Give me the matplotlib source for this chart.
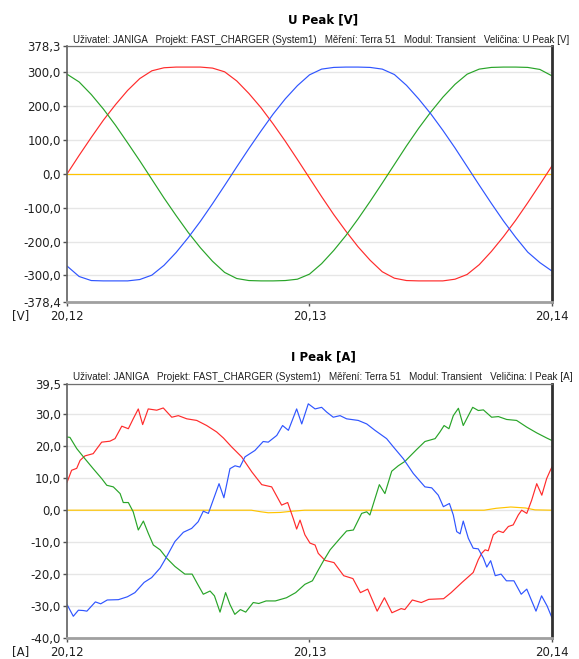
import numpy as np
import matplotlib.pyplot as plt
from matplotlib.ticker import FixedLocator, FixedFormatter

# --- voltage, sampled every 0.5 ms from 20.120 s ---
t_u = np.linspace(20.12, 20.14, 41)
u_red = [0, 55, 108, 159, 205, 247, 282, 305, 314, 316, 316, 316, 313, 302, 275,
         238, 196, 148, 97, 43, -12, -67, -120, -169, -215, -255, -289, -308, -315,
         -316, -316, -316, -311, -297, -268, -229, -185, -137, -85, -31, 24]
u_blue = [-272, -303, -315, -316, -316, -316, -312, -299, -270, -232, -188, -140, -88,
          -34, 21, 75, 127, 177, 222, 261, 293, 310, 315, 316, 316, 315, 310, 294,
          262, 222, 178, 129, 77, 22, -33, -87, -139, -187, -231, -262, -287]
u_green = [295, 272, 235, 192, 144, 92, 39, -16, -71, -123, -173, -218, -258, -291,
           -309, -315, -316, -316, -315, -311, -296, -265, -226, -182, -133, -81, -27,
           28, 83, 135, 183, 227, 265, 295, 310, 315, 316, 316, 315, 309, 290]
u_yellow = [0] * 41

# --- current, times in ms after 20.120 s ---
ms_red = [0.00, 0.19, 0.40, 0.54, 0.74, 1.08, 1.43, 1.77, 1.98, 2.26, 2.53, 2.73, 2.94,
          3.12, 3.35, 3.70, 3.97, 4.32, 4.59, 4.94, 5.35, 5.76, 6.17, 6.45, 6.79, 7.20,
          7.62, 8.03, 8.44, 8.85, 9.10, 9.33, 9.47, 9.61, 9.81, 10.02, 10.23, 10.36,
          10.64, 11.01, 11.41, 11.79, 12.10, 12.40, 12.79, 13.09, 13.40, 13.78, 13.93,
          14.24, 14.61, 14.92, 15.53, 15.84, 16.29, 16.75, 16.96, 17.10, 17.24, 17.37,
          17.58, 17.79, 17.99, 18.20, 18.40, 18.61, 18.75, 18.96, 19.16, 19.37, 19.58,
          19.78, 19.95, 20.00]
i_red = [8.7, 12.5, 13.1, 15.6, 17.0, 17.7, 21.3, 21.6, 22.4, 26.3, 25.5, 28.6, 31.7,
         26.8, 31.7, 31.3, 32.0, 29.1, 29.6, 28.6, 28.1, 26.5, 24.5, 22.6, 19.8, 16.7,
         12.0, 8.0, 7.3, 1.6, 2.4, -2.6, -5.9, -3.1, -7.7, -10.3, -10.9, -13.5, -15.7,
         -16.4, -20.5, -21.4, -25.8, -24.7, -31.6, -27.4, -32.1, -30.8, -31.1, -28.1,
         -28.9, -27.9, -27.7, -25.8, -22.6, -19.5, -15.5, -13.5, -12.4, -12.7, -7.7,
         -6.5, -7.0, -5.1, -4.6, -1.5, 0.0, -1.0, 3.1, 8.3, 4.7, 9.9, 12.8, 13.5]

ms_blue = [0.00, 0.26, 0.47, 0.67, 0.82, 1.17, 1.39, 1.66, 2.12, 2.49, 2.80, 3.18, 3.49,
           3.84, 4.04, 4.45, 4.80, 5.14, 5.41, 5.62, 5.83, 6.10, 6.27, 6.47, 6.72, 6.93,
           7.13, 7.34, 7.75, 8.09, 8.30, 8.65, 8.89, 9.13, 9.47, 9.68, 9.95, 10.23,
           10.50, 10.71, 10.98, 11.26, 11.53, 12.01, 12.36, 12.70, 13.18, 13.46, 13.87,
           14.28, 14.76, 15.04, 15.31, 15.52, 15.77, 15.93, 16.07, 16.21, 16.34, 16.55,
           16.75, 16.96, 17.17, 17.31, 17.47, 17.66, 17.90, 18.12, 18.43, 18.73, 18.96,
           19.34, 19.57, 19.80, 20.00]
i_blue = [-29.5, -33.2, -31.3, -31.4, -31.6, -28.7, -29.3, -28.1, -28.0, -27.1, -25.8,
          -22.6, -21.1, -18.1, -15.5, -9.8, -6.9, -5.7, -3.6, -0.3, -1.0, 4.7, 8.3, 3.9,
          13.0, 13.9, 13.5, 16.7, 18.7, 21.5, 21.3, 23.4, 26.5, 25.0, 31.7, 27.0, 33.3,
          31.7, 32.2, 30.7, 29.1, 29.6, 28.6, 28.1, 27.0, 25.0, 22.4, 19.8, 16.1, 11.5,
          7.3, 7.0, 4.7, 1.1, 2.1, -1.5, -6.7, -7.4, -3.4, -8.8, -11.9, -12.1, -15.0,
          -17.8, -15.8, -20.5, -20.0, -22.1, -22.1, -26.3, -24.7, -31.6, -26.8, -30.0,
          -33.7]

ms_green = [0.00, 0.12, 0.40, 0.74, 1.08, 1.43, 1.64, 1.91, 2.19, 2.32, 2.53, 2.73, 2.94,
            3.15, 3.35, 3.56, 3.84, 4.11, 4.45, 4.86, 5.16, 5.39, 5.62, 5.90, 6.08, 6.31,
            6.54, 6.72, 6.92, 7.15, 7.37, 7.68, 7.91, 8.21, 8.59, 9.05, 9.43, 9.81, 10.12,
            10.35, 10.58, 10.85, 11.26, 11.53, 11.81, 12.15, 12.36, 12.49, 12.88, 13.11,
            13.39, 13.66, 13.94, 14.21, 14.42, 14.76, 15.18, 15.38, 15.55, 15.75, 15.93,
            16.14, 16.34, 16.55, 16.73, 16.96, 17.17, 17.51, 17.79, 18.13, 18.54, 18.96,
            19.37, 19.78, 20.00]
i_green = [22.9, 22.8, 19.3, 16.1, 13.0, 9.9, 7.8, 7.3, 5.2, 2.4, 2.4, -0.5, -6.2, -3.4,
           -7.2, -10.9, -12.4, -15.0, -17.6, -20.0, -20.0, -23.2, -26.3, -25.3, -26.8,
           -31.9, -25.8, -29.5, -32.6, -31.1, -31.9, -28.9, -29.2, -28.4, -28.4, -27.4,
           -25.8, -23.2, -22.1, -18.9, -15.8, -12.4, -8.8, -6.5, -6.2, -1.0, -0.5, -1.5,
           8.0, 5.2, 12.2, 13.9, 15.3, 17.4, 19.0, 21.5, 22.4, 24.5, 26.5, 25.5, 29.6,
           31.9, 26.5, 29.6, 32.2, 31.2, 31.4, 29.1, 29.3, 28.4, 28.1, 26.0, 24.2, 22.6,
           21.8]

ms_yellow = [0, 7.6, 8.0, 8.3, 8.8, 9.3, 9.8, 17.2, 17.7, 18.3, 18.9, 19.3, 20]
i_yellow = [0.0, 0.0, -0.5, -0.8, -0.7, -0.3, 0.0, 0.0, 0.6, 1.0, 0.7, 0.1, 0.0]

u_ticks = [378.3, 300, 200, 100, 0, -100, -200, -300, -378.4]
i_ticks = [39.5, 30, 20, 10, 0, -10, -20, -30, -40]
x_ticks = [20.12, 20.13, 20.14]

info = ("Uživatel: JANIGA   Projekt: FAST_CHARGER (System1)   Měření: Terra 51   "
        "Modul: Transient   Veličina: {}")

C_RED, C_BLUE, C_GREEN, C_YEL = '#ff2b2b', '#2f55ff', '#28a428', '#ffc400'

W, H = 579, 659
fig = plt.figure(figsize=(W / 100, H / 100), dpi=100)
fig.patch.set_facecolor('white')


def px_box(l, t, r, b):
    return [l / W, 1 - b / H, (r - l) / W, (b - t) / H]


def ms_to_t(ms):
    return 20.12 + np.asarray(ms) / 1000.0


def comma(v, fmt):
    return (fmt % v).replace('.', ',')


def style(ax, yticks, unit):
    ax.set_xlim(20.12, 20.14)
    ax.set_ylim(yticks[-1], yticks[0])
    ax.yaxis.set_major_locator(FixedLocator(yticks))
    ax.yaxis.set_major_formatter(FixedFormatter([comma(v, '%.1f') for v in yticks]))
    ax.xaxis.set_major_locator(FixedLocator(x_ticks))
    ax.xaxis.set_major_formatter(FixedFormatter([comma(v, '%.2f') for v in x_ticks]))
    ax.tick_params(axis='both', direction='out', length=3, width=1, color='#505050',
                   labelsize=8.5, labelcolor='#202020', pad=1.5)
    ax.tick_params(axis='x', pad=2.5)
    ax.yaxis.grid(True, color='#e6e6e6', lw=1)
    ax.set_axisbelow(True)
    ax.spines['left'].set_color('#606060')
    ax.spines['left'].set_linewidth(1.2)
    ax.spines['top'].set_color('#707070')
    ax.spines['top'].set_linewidth(0.9)
    ax.spines['right'].set_color('#303030')
    ax.spines['right'].set_linewidth(2)
    ax.spines['bottom'].set_color('#a0a0a0')
    ax.spines['bottom'].set_linewidth(2)
    bb = ax.get_position()
    fig.text(21 / W, bb.y0 - 14 / H, unit, ha='center', va='center', fontsize=8.5,
             color='#202020')


lw = 0.85

ax_u = fig.add_axes(px_box(67, 46, 552, 302))
ax_u.plot(t_u, u_yellow, color=C_YEL, lw=lw)
ax_u.plot(t_u, u_red, color=C_RED, lw=lw)
ax_u.plot(t_u, u_green, color=C_GREEN, lw=lw)
ax_u.plot(t_u, u_blue, color=C_BLUE, lw=lw)
style(ax_u, u_ticks, '[V]')

ax_i = fig.add_axes(px_box(67, 384, 552, 638))
ax_i.plot(ms_to_t(ms_yellow), i_yellow, color=C_YEL, lw=lw)
ax_i.plot(ms_to_t(ms_red), i_red, color=C_RED, lw=lw)
ax_i.plot(ms_to_t(ms_green), i_green, color=C_GREEN, lw=lw)
ax_i.plot(ms_to_t(ms_blue), i_blue, color=C_BLUE, lw=lw)
style(ax_i, i_ticks, '[A]')

# titles and info lines above each panel
fig.text(323 / W, 1 - 20 / H, 'U Peak [V]', ha='center', va='center',
         fontsize=8.5, fontweight='bold')
fig.text(323 / W, 1 - 357 / H, 'I Peak [A]', ha='center', va='center',
         fontsize=8.5, fontweight='bold')
infos = [
    fig.text(73 / W, 1 - 40 / H, info.format('U Peak [V]'), ha='left', va='center',
             family='Liberation Sans', fontsize=7.5, color='#202020'),
    fig.text(73 / W, 1 - 377 / H, info.format('I Peak [A]'), ha='left', va='center',
             family='Liberation Sans', fontsize=7.5, color='#202020'),
]

fig.canvas.draw()
for txt in infos:
    w = txt.get_window_extent().width
    txt.set_fontsize(txt.get_fontsize() * 499.0 / w)

fig.savefig('out.png', dpi=100)
